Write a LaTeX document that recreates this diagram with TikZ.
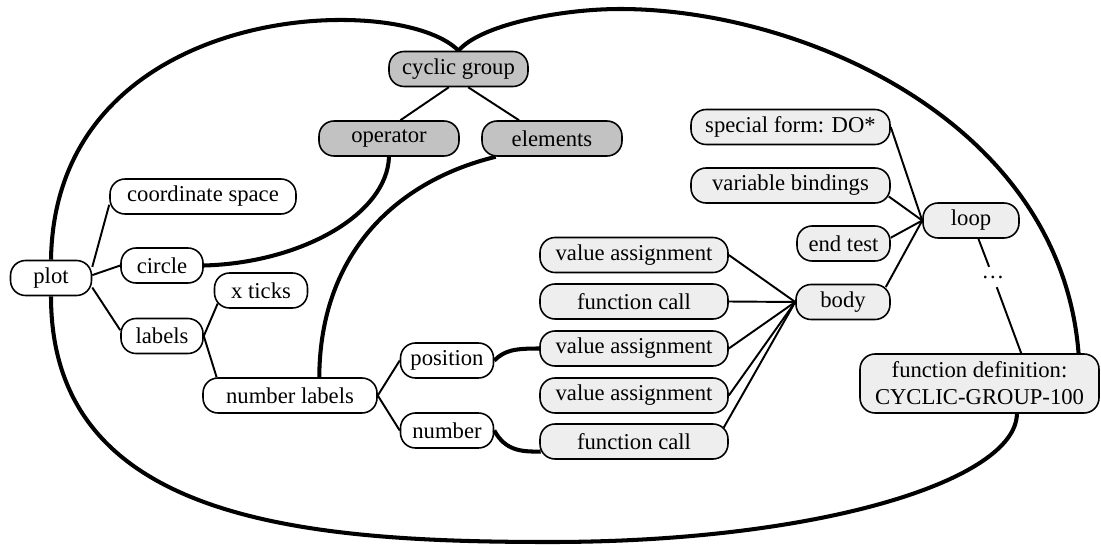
\documentclass[tikz,border=0pt]{standalone}
\usepackage{fontspec}
\setmainfont{Liberation Serif}

\begin{document}
\begin{tikzpicture}[x=0.02cm,y=-0.02cm,black,
    box/.style={draw,line width=0.9pt,rounded corners=0.3cm,
        minimum height=0.7cm,inner sep=0pt,
        font=\fontsize{12.9}{15.3}\selectfont},
    root/.style={box,fill=gray!48},
    leaf/.style={box,fill=white},
    code/.style={box,fill=gray!13},
    link/.style={line width=1.1pt},
    tie/.style={line width=2.3pt}]
\useasboundingbox (0,0) rectangle (1101,544);

\node[root,minimum width=2.78cm] (cg) at (458.5,69) {cyclic group};
\node[root,minimum width=2.8cm] (op) at (389,138.5) {operator};
\node[root,minimum width=2.8cm] (el) at (552,138.5) {elements};

\node[leaf,minimum width=1.62cm] (plot) at (51,278) {plot};
\node[leaf,minimum width=3.72cm] (cs) at (203,196.5) {coordinate space};
\node[leaf,minimum width=1.64cm] (circ) at (162,265.5) {circle};
\node[leaf,minimum width=1.64cm] (lab) at (162,336) {labels};
\node[leaf,minimum width=1.86cm] (xt) at (261,290.5) {x ticks};
\node[leaf,minimum width=3.48cm] (nl) at (290,395.5) {number labels};
\node[leaf,minimum width=1.86cm] (pos) at (447,360.5) {position};
\node[leaf,minimum width=1.86cm] (num) at (447,430.5) {number};

\foreach \nm/\txt/\y in {va1/value assignment/255,fc1/function call/301.5,
    va2/value assignment/348.5,va3/value assignment/395.5,fc2/function call/441.5}
  \node[code,minimum width=3.76cm] (\nm) at (634,\y) {\txt};

\node[code,minimum width=1.88cm] (body) at (843,302) {body};
\node[code,minimum width=3.98cm] (sf) at (790.5,127) {special form: DO*};
\node[code,minimum width=3.98cm] (vb) at (790.5,185.5) {variable bindings};
\node[code,minimum width=1.86cm] (et) at (843.5,243.5) {end test};
\node[code,minimum width=1.92cm] (loop) at (971,220.5) {loop};
\node[code,minimum width=4.78cm,minimum height=1.18cm,align=center] (fd)
    at (979.5,383.5) {function definition:\\CYCLIC-GROUP-100};
\node[inner sep=0.17cm,font=\fontsize{12.9}{15.3}\selectfont] (dots) at (993,277) {\dots};

% thin links
\draw[link] (cg.242) -- (op.58);
\draw[link] (cg.298) -- (el.151);
\draw[link] (plot.15) -- (cs.185);
\draw[link] (plot.4) -- (circ.west);
\draw[link] (plot.-13) -- (lab.172);
\draw[link] (lab.east) -- ([shift={(4,13)}]xt.west);
\draw[link] (lab.east) -- (nl.166);
\draw[link] (nl.east) -- (pos.west);
\draw[link] (nl.east) -- (num.west);
\foreach \nm in {va1,fc1,va2,va3}
  \draw[link] (\nm.east) -- (body.west);
\draw[link] ([shift={(-5,-14)}]fc2.east) -- (body.west);
\draw[link] ([shift={(-5,-15)}]body.east) -- (loop.west);
\draw[link] (sf.east) -- (loop.west);
\draw[link] ([shift={(-2,11)}]vb.east) -- (loop.west);
\draw[link] (et.7) -- (loop.west);
\draw[link] (loop.-68) -- (dots) -- (fd.36);

% thick ties
\draw[tie] (cg.north) .. controls (400,-10) and (55,0) .. (plot.north);
\draw[tie] (plot.south) .. controls (51,520) and (300,542) .. (550,542)
    .. controls (820,542) and (1016,480) .. (fd.-39);
\draw[tie] (cg.north) .. controls (480,25) and (560,9) .. (620,9)
    .. controls (800,9) and (1060,120) .. (fd.17);
\draw[tie] (op.south) .. controls (387,215) and (300,263) .. (circ.east);
\draw[tie] (el.198) .. controls (400,180) and (320,250) .. (nl.32);
\draw[tie] (pos.east) .. controls (505,350) and (515,348.5) .. (va2.west);
\draw[tie] (num.east) .. controls (505,450) and (520,452) .. ([shift={(1.5,10)}]fc2.west);

\end{tikzpicture}
\end{document}
